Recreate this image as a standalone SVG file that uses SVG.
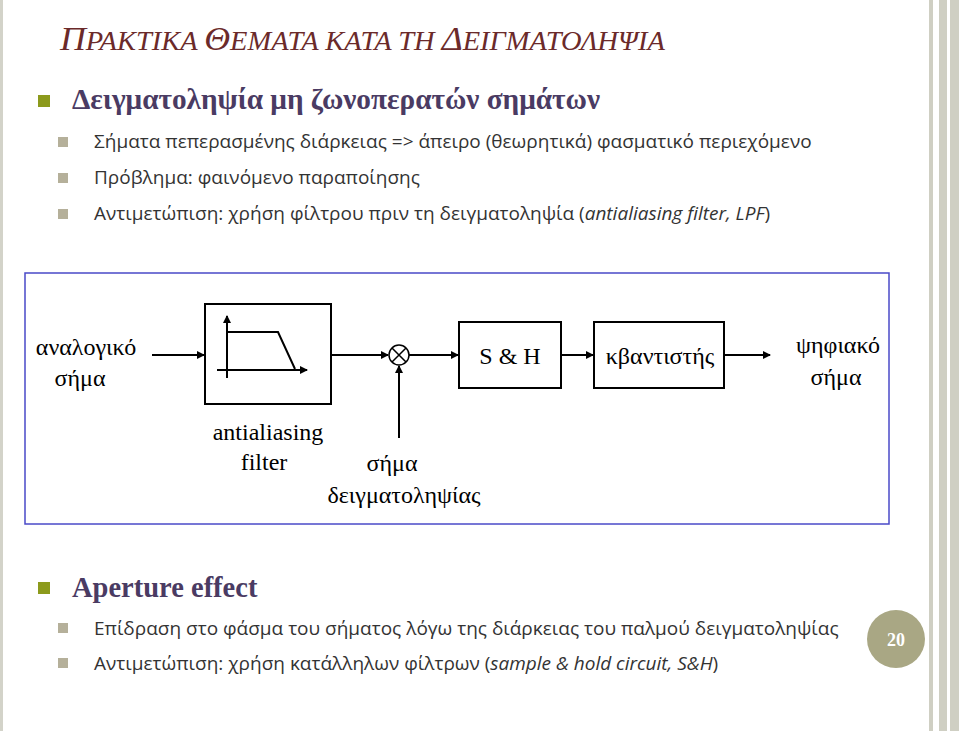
<svg xmlns="http://www.w3.org/2000/svg" width="959" height="731" viewBox="0 0 959 731">
<defs>
<marker id="ah" markerWidth="8" markerHeight="8" refX="7" refY="4" orient="auto" markerUnits="userSpaceOnUse"><path d="M0,0 L8,4 L0,8 Z" fill="#000"/></marker>
<style>
.t{font-family:"Liberation Serif",serif;fill:#6b2a2a;font-style:italic}
.b1{font-family:"Liberation Serif",serif;font-weight:bold;fill:#4a3b63;font-size:28.5px}
.b2{font-family:"Open Sans","Noto Sans",sans-serif;fill:#333;font-size:19px}
.sq1{fill:#8c9a1c}.sq2{fill:#b5b09a}
.d{font-family:"Liberation Serif",serif;font-size:24px;fill:#000;text-anchor:middle}
.bx{fill:#fff;stroke:#000;stroke-width:2}
.ln{stroke:#000;stroke-width:2;fill:none}
</style>
</defs>
<rect width="959" height="731" fill="#fff"/>
<rect x="0" y="0" width="3" height="731" fill="#d3d3c9"/>
<rect x="929" y="0" width="4" height="731" fill="#cfcfc3"/>
<rect x="939" y="0" width="8" height="731" fill="#cfcfc3"/>
<rect x="950" y="0" width="9" height="731" fill="#cfcfc3"/>
<text class="t" x="60" y="50" font-size="34" textLength="605" lengthAdjust="spacingAndGlyphs">Π<tspan font-size="27">ΡΑΚΤΙΚΑ </tspan>Θ<tspan font-size="27">ΕΜΑΤΑ ΚΑΤΑ ΤΗ </tspan>Δ<tspan font-size="27">ΕΙΓΜΑΤΟΛΗΨΙΑ</tspan></text>
<rect class="sq1" x="38" y="95" width="12" height="12"/>
<text class="b1" x="72" y="109" textLength="528" lengthAdjust="spacingAndGlyphs">Δειγματοληψία μη ζωνοπερατών σημάτων</text>
<rect class="sq2" x="58" y="137" width="10" height="10"/>
<text class="b2" x="94" y="148">Σήματα πεπερασμένης διάρκειας =&gt; άπειρο (θεωρητικά) φασματικό περιεχόμενο</text>
<rect class="sq2" x="58" y="173" width="10" height="10"/>
<text class="b2" x="94" y="184">Πρόβλημα: φαινόμενο παραποίησης</text>
<rect class="sq2" x="58" y="209" width="10" height="10"/>
<text class="b2" x="94" y="220">Αντιμετώπιση: χρήση φίλτρου πριν τη δειγματοληψία (<tspan font-style="italic">antialiasing filter, LPF</tspan>)</text>
<rect x="25" y="273" width="864" height="251" fill="#fff" stroke="#4a4ac8" stroke-width="1.5"/>
<g id="n-filter"><rect class="bx" x="205" y="304" width="126" height="100"/>
<path class="ln" d="M227,378 L227,316" stroke-width="1.5" marker-end="url(#ah)"/>
<path class="ln" d="M217,370 L307,370" stroke-width="1.5" marker-end="url(#ah)"/>
<path class="ln" d="M227,332 L278,332 L295,369" stroke-width="1.5"/></g>
<g id="n-mult"><circle cx="399" cy="355" r="10" fill="#fff" stroke="#000" stroke-width="1.5"/><path d="M392,348 L406,362 M406,348 L392,362" stroke="#000" stroke-width="1.5"/></g>
<g id="n-sh"><rect class="bx" x="459" y="322" width="102" height="66"/><text class="d" x="510" y="364" font-family="Liberation Sans,sans-serif" font-size="22">S &amp; H</text></g>
<g id="n-q"><rect class="bx" x="594" y="322" width="130" height="66"/><text class="d" x="660" y="364">κβαντιστής</text></g>
<g id="labels">
<text class="d" x="86" y="355">αναλογικό</text><text class="d" x="80" y="386">σήμα</text>
<text class="d" x="268" y="440">antialiasing</text><text class="d" x="264" y="470">filter</text>
<text class="d" x="392" y="471">σήμα</text><text class="d" x="404" y="503">δειγματοληψίας</text>
<text class="d" x="838" y="353">ψηφιακό</text><text class="d" x="836" y="385">σήμα</text>
</g>
<g id="connectors" stroke="#000" stroke-width="2" fill="none">
<path d="M152,355 L204,355" marker-end="url(#ah)"/>
<path d="M331,355 L388,355" marker-end="url(#ah)"/>
<path d="M409,355 L458,355" marker-end="url(#ah)"/>
<path d="M561,355 L593,355" marker-end="url(#ah)"/>
<path d="M724,355 L770,355" marker-end="url(#ah)"/>
<path d="M399,438 L399,366" marker-end="url(#ah)"/>
</g>
<rect class="sq1" x="38" y="582" width="12" height="12"/>
<text class="b1" x="72" y="597">Aperture effect</text>
<rect class="sq2" x="58" y="623" width="10" height="10"/>
<text class="b2" x="94" y="635">Επίδραση στο φάσμα του σήματος λόγω της διάρκειας του παλμού δειγματοληψίας</text>
<rect class="sq2" x="58" y="658" width="10" height="10"/>
<text class="b2" x="94" y="670">Αντιμετώπιση: χρήση κατάλληλων φίλτρων (<tspan font-style="italic">sample &amp; hold circuit, S&amp;H</tspan>)</text>
<circle cx="896" cy="639" r="29" fill="#a9a784"/>
<text x="896" y="646" text-anchor="middle" font-family="Liberation Serif,serif" font-weight="bold" font-size="18" fill="#fff">20</text>
</svg>
